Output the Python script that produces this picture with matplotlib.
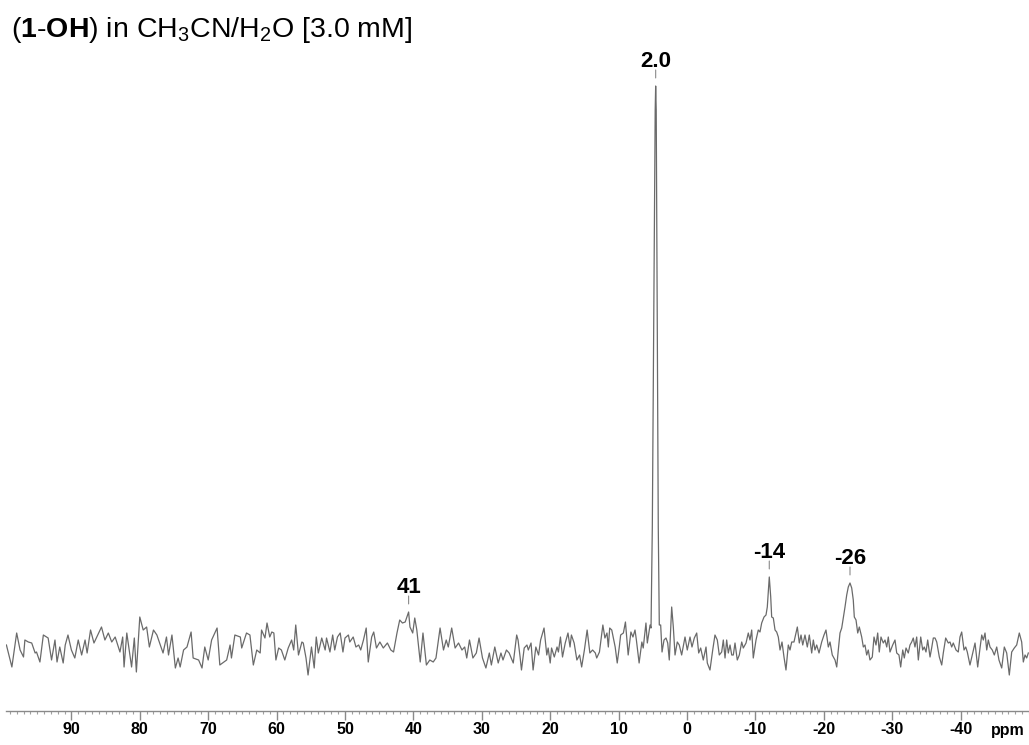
import numpy as np
import matplotlib
matplotlib.use('Agg')
import matplotlib.pyplot as plt

plt.rcParams['font.family'] = ['Liberation Sans', 'DejaVu Sans']
plt.rcParams['mathtext.fontset'] = 'custom'
plt.rcParams['mathtext.rm'] = 'Liberation Sans'
plt.rcParams['mathtext.bf'] = 'Liberation Sans:bold'
plt.rcParams['axes.unicode_minus'] = False

# 1D spectrum, chemical shift (ppm) and intensity (a.u.), high to low field
shift_ppm = [
    99.5, 98.7, 98.0, 97.5, 97.0, 96.8, 96.3, 95.8, 95.3, 95.1, 94.6, 94.1, 93.4, 92.9, 92.4,
    92.1, 91.7, 91.2, 90.9, 90.5, 90.0, 89.5, 89.0, 88.5, 88.0, 87.7, 87.2, 86.7, 85.6, 85.1,
    84.6, 84.1, 83.6, 82.9, 82.5, 82.3, 81.9, 81.2, 80.8, 80.5, 80.0, 79.5, 79.0, 78.6, 78.0,
    77.5, 76.6, 76.1, 75.8, 75.3, 74.8, 74.4, 74.1, 73.6, 73.1, 72.5, 72.2, 71.4, 70.9, 70.5,
    70.0, 69.5, 68.7, 68.3, 67.3, 66.8, 66.6, 66.1, 65.3, 65.1, 64.4,
    63.9, 63.4, 62.9, 62.4, 62.2, 61.7, 61.4, 61.0, 60.7, 60.4, 60.1, 59.7, 59.3, 58.8, 58.3,
    57.8, 57.5, 57.2, 56.8, 56.3, 56.1, 55.7, 55.4, 54.9, 54.5, 54.2, 53.9, 53.4, 52.9, 52.7,
    52.2, 51.8, 51.5, 51.1, 50.7, 50.3, 50.0, 49.5, 49.3, 48.8, 48.4, 48.0, 47.7, 47.3, 46.9,
    46.6, 46.1, 45.8, 45.4, 44.9, 44.4, 43.8, 43.3, 42.9, 42.4, 42.0, 41.6, 41.2, 40.7, 40.5,
    40.1, 39.8, 39.5, 39.0, 38.6, 38.1, 37.6, 37.1, 36.7, 36.1, 35.6, 35.2, 34.9, 34.4, 33.9,
    33.4, 32.9, 32.5, 32.2, 31.8, 31.3, 30.8, 30.4, 29.9, 29.4, 28.9, 28.6, 28.1, 27.6, 27.2,
    26.9, 26.4, 26.0,
    25.4, 24.9, 24.7, 24.4, 24.2, 23.8, 23.4, 23.2, 22.8, 22.5, 22.1, 21.7, 21.4, 20.9, 20.5,
    20.3, 20.0, 19.8, 19.4, 19.0, 18.8, 18.5, 18.2, 17.8, 17.4, 17.1, 16.9, 16.5, 16.1, 15.7,
    15.4, 15.0, 14.6, 14.2, 13.8, 13.4, 13.2, 12.8, 12.3, 12.0, 11.7, 11.5,
    11.3, 11.0, 10.5, 10.2, 9.9, 9.7, 9.3, 9.0, 8.6, 8.2, 7.9, 7.6, 7.4, 7.0, 6.6,
    6.4, 6.0, 5.8, 5.4, 5.26, 5.07, 4.65, 4.58, 4.50, 4.20, 4.05, 3.85, 3.65, 3.36, 3.07,
    2.82, 2.59, 2.24, 2.00, 1.75, 1.42, 1.13, 0.78, 0.29, -0.04, -0.44, -0.73, -1.07, -1.42, -1.71,
    -2.00, -2.38, -2.78, -2.97, -3.36, -3.76, -4.09, -4.43, -4.72,
    -5.07, -5.31, -5.56, -5.80, -6.04, -6.29, -6.54, -6.77, -7.02, -7.35, -7.65, -8.00, -8.23, -8.63, -8.96,
    -9.21, -9.46, -9.69, -10.09, -10.42, -10.67, -10.92, -11.26, -11.55, -11.74, -12.03, -12.24, -12.38, -12.62, -12.87,
    -13.11, -13.35, -13.60, -13.89, -14.18, -14.47, -14.81, -15.06, -15.31, -15.64, -15.94, -16.13, -16.42, -16.67, -16.92,
    -17.25, -17.59, -17.88, -18.23, -18.47, -18.71, -18.96, -19.30, -19.69, -20.03, -20.32, -20.66, -20.91, -21.24, -21.64,
    -21.89, -22.12, -22.37, -22.62, -22.85, -23.10, -23.35, -23.58, -23.83, -24.08, -24.31, -24.46, -24.71, -24.96, -25.19,
    -25.54, -25.78, -26.02, -26.27, -26.50, -26.75, -27.09, -27.34, -27.63, -27.88, -28.11, -28.36, -28.70, -28.95, -29.20,
    -29.43, -29.68, -30.07, -30.41, -30.66, -30.99,
    -31.24, -31.54, -31.77, -32.02, -32.35, -32.60, -32.85, -33.08, -33.33, -33.58, -33.82, -34.17, -34.46, -34.69, -34.94,
    -35.19, -35.53, -35.77, -36.01, -36.26, -36.51, -36.89, -37.24, -37.47, -37.82, -38.20, -38.45, -38.70, -38.93, -39.33,
    -39.66, -39.91, -40.16, -40.50, -40.75, -40.98, -41.37, -41.71, -42.11, -42.50, -42.84, -43.09, -43.32, -43.57, -43.82,
    -44.05, -44.30, -44.63, -44.93, -45.28, -45.61, -46.01, -46.39, -46.74, -47.12, -47.47, -47.85, -48.20, -48.58, -48.93,
    -49.17, -49.42, -49.66, -49.90,
]
intensity = [
    5, -17, 17, 0, -7, 10, 8, 7, -3, -2, -12, 15, 12, -10, 10,
    -12, 3, -13, 5, 15, 0, -8, 10, -5, 10, -3, 20, 7, 23, 10,
    17, 8, 13, -2, 13, -17, 17, -17, 12, -22, 33, 20, 23, 3, 20,
    15, -3, 13, -5, 15, -18, -8, -17, 0, 3, 18, -8, -10, -18, 3,
    -10, 10, 22, -15, -10, 5, -8, 15, 13, 2, 17,
    15, -15, 0, -3, 20, 12, 27, 13, 18, 17, -10, 2, 0, -10, 2,
    10, 0, 25, -5, 8, 7, -8, -25, 3, -18, 13, -3, 12, 0, 12,
    -2, 15, 0, 13, 17, -2, 12, 15, 8, 13, 3, 5, 0, 10, 22,
    -12, 13, 18, 2, 8, 2, 7, 0, -2, 17, 30, 27, 28, 38, 23,
    17, 32, 20, -12, 17, -15, -10, -12, -8, 22, 0, 10, 3, 22, 2,
    7, 0, 3, -8, 10, -8, -3, 12, -8, -18, -3, -15, 3, -13, -3,
    -10, 0, -3,
    -13, 15, 10, -7, -20, 2, 5, 0, 7, -20, 3, -5, 10, 22, -5,
    2, -13, 2, -7, 3, -2, 13, -7, 7, 17, 3, 15, 7, -10, -5,
    -17, 0, 20, -3, 0, -3, -8, -2, 25, 12, 17, 3,
    22, 20, 3, -13, 3, 15, 17, 28, -5, 18, 13, 20, 10, -13, 8,
    2, 27, 7, 25, 22, 123, 540, 564, 540, 123, 25, 25, -2, 10, 12,
    7, -10, 43, 23, -5, 8, 5, -5, 13, 0, 13, 3, 12, 17, -3,
    2, -10, 3, -13, -20, 0, 15, 10, -5,
    -2, 10, -8, 10, -3, 5, -5, -5, 7, -10, -5, 8, 2, 7, 17,
    10, 20, -8, 10, 20, 18, 27, 33, 35, 43, 73, 53, 33, 32, 20,
    18, 13, 0, 8, -7, -20, 5, 0, 8, 8, 17, 23, 7, 15, 5,
    15, 3, 15, -3, 10, 0, 5, -3, 8, 15, 20, 3, 8, -5, -10,
    -17, 0, 17, 22, 32, 43, 55, 63, 67, 62, 50, 33, 30, 17, 23,
    13, 3, 5, -5, 0, -10, -7, 13, 5, 17, -2, 13, 7, 10, 3,
    13, -2, 5, 10, -3, -5,
    -17, 0, -8, 2, -3, 5, 8, 12, 3, 13, -10, 13, 0, 3, -2,
    10, -7, 2, 12, 12, 8, -7, -15, -3, 12, 7, 8, 3, 7, 0,
    -2, 13, 18, 0, 3, -2, -15, -5, 7, -17, 2, 15, 10, 17, 0,
    10, 3, 0, -5, 3, -10, -18, 3, -3, -25, -2, 2, 5, 17, 8,
    -12, -5, -8, -3,
]

# labelled peaks: position on the shift axis and the text written above them
peak_pos = [40.7, 4.58, -12.03, -23.83]
peak_labels = ['41', '2.0', '-14', '-26']

major_ticks = list(range(-40, 91, 10))

fig = plt.figure(figsize=(10.29, 7.45), dpi=100)
ax = fig.add_axes([6 / 1029, 34 / 745, 1023 / 1029, 651 / 745])

ax.plot(shift_ppm, intensity, color='#6a6a6a', lw=0.9)

ax.set_xlim(99.56, -50.0)
ax.set_ylim(-61, 590)

# only the bottom axis is shown, like a plain NMR plot
for side in ['left', 'right', 'top']:
    ax.spines[side].set_visible(False)
ax.spines['bottom'].set_color('#8a8a8a')
ax.spines['bottom'].set_linewidth(1.0)
ax.set_yticks([])
ax.set_xticks(major_ticks, labels=[str(t) for t in major_ticks])
ax.set_xticks(np.arange(-50, 100, 1), minor=True)
ax.tick_params(axis='x', which='major', length=6.5, width=1.0, color='#8a8a8a',
               pad=1.5, labelsize=11.5, direction='out')
ax.tick_params(axis='x', which='minor', length=2.5, width=0.8, color='#a0a0a0', direction='out')
for lab in ax.get_xticklabels():
    lab.set_fontweight('bold')

ax.annotate('ppm', xy=(1.0, 0), xycoords='axes fraction', xytext=(-3, -8.5),
            textcoords='offset points', ha='right', va='top',
            fontsize=11.5, fontweight='bold')

# peak labels with a small marker line above the top of each peak
ppm_arr = np.array(shift_ppm)
int_arr = np.array(intensity)
for pos, text in zip(peak_pos, peak_labels):
    near = np.abs(ppm_arr - pos) <= 1.0
    top = int_arr[near].max()
    ax.annotate('', xy=(pos, top), xytext=(0, 16), textcoords='offset pixels',
                arrowprops=dict(arrowstyle='-', color='#8a8a8a', lw=0.8,
                                shrinkA=0, shrinkB=5.8))
    ax.annotate(text, xy=(pos, top), xytext=(0, 19), textcoords='offset pixels',
                ha='center', va='baseline', fontsize=16, fontweight='bold')

fig.text(11 / 1029, 1 - 37 / 745,
         r'($\mathbf{1}$-$\mathbf{OH}$) in CH$_3$CN/H$_2$O [3.0 mM]',
         fontsize=20.5, ha='left', va='baseline')

fig.savefig('out.png', dpi=100)
